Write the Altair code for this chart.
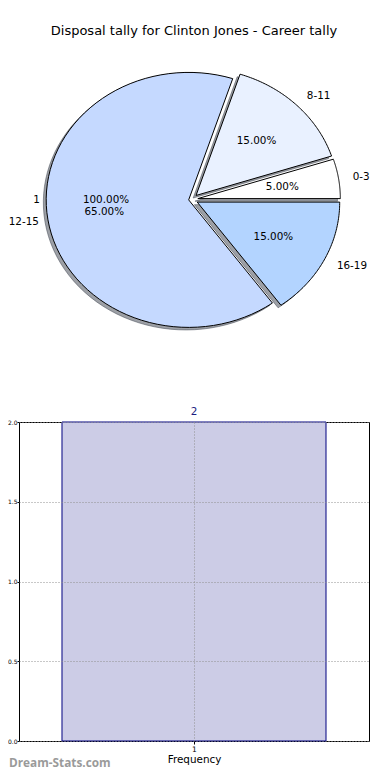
import altair as alt
import pandas as pd

# ---------------- data ----------------
title_text = "Disposal tally for Clinton Jones - Career tally"
pie_labels = ["0-3", "8-11", "12-15", "16-19"]
pie_counts = [1, 3, 13, 3]
pie_colors = ["#ffffff", "#e9f1ff", "#c5d9ff", "#b3d4ff"]
pie_explode = [0.045, 0.045, 0.02, 0.045]

extra_labels = ["1"]
extra_counts = [1]

bar_cats = [1]
bar_values = [2]
y_ticks = [0.0, 0.5, 1.0, 1.5, 2.0]
x_title = "Frequency"
watermark = "Dream-Stats.com"

# ---------------- layout constants ----------------
PW, PH = 350, 380          # pie panel plot size
BW, BH = 350, 319          # bar panel plot size
CX, CY = 172.5, 190.5      # pie centre inside pie panel (px)
RX, RY = 142.5, 127.5      # pie radii (px), matplotlib ellipse
N = 72
FONT = "DejaVu Sans"

x_dom = [-CX / RX, (PW - CX) / RX]
y_dom = [-(PH - CY) / RY, CY / RY]
xs = alt.Scale(domain=x_dom, nice=False, zero=False)
ys = alt.Scale(domain=y_dom, nice=False, zero=False)

main_df = pd.DataFrame({
    "order": list(range(len(pie_labels))),
    "label": pie_labels,
    "value": pie_counts,
    "color": pie_colors,
    "explode": pie_explode,
    "grp": "main",
})
extra_df = pd.DataFrame({
    "order": list(range(len(extra_labels))),
    "label": extra_labels,
    "value": extra_counts,
    "color": "#ffffff",
    "explode": 0.0,
    "grp": "extra",
})
all_df = pd.concat([main_df, extra_df], ignore_index=True)


def with_angles(ch):
    return (
        ch.transform_window(cum="sum(value)", frame=[None, 0],
                            sort=[alt.SortField("order")], groupby=["grp"])
        .transform_joinaggregate(total="sum(value)", groupby=["grp"])
        .transform_calculate(a0="2*PI*(datum.cum-datum.value)/datum.total")
        .transform_calculate(a1="2*PI*datum.cum/datum.total")
        .transform_calculate(am="(datum.a0+datum.a1)/2")
        .transform_calculate(ex="datum.explode*cos(datum.am)")
        .transform_calculate(ey="datum.explode*sin(datum.am)")
    )


def wedge_points(ch, dx, dy):
    return (
        with_angles(ch)
        .transform_calculate(k=f"sequence(0, {N + 3})")
        .transform_flatten(["k"])
        .transform_calculate(t=f"datum.a0 + (datum.a1-datum.a0)*(datum.k-1)/{N}")
        .transform_calculate(edge=f"(datum.k == 0 || datum.k == {N + 2}) ? 0 : 1")
        .transform_calculate(px=f"datum.ex + datum.edge*cos(datum.t) + ({dx})")
        .transform_calculate(py=f"datum.ey + datum.edge*sin(datum.t) + ({dy})")
    )


shadow = wedge_points(alt.Chart(main_df), -0.02, -0.02).mark_line(
    stroke="#3b414d", strokeOpacity=0.5, fill="#3b414d", fillOpacity=0.5,
    strokeWidth=1, interpolate="linear"
).encode(
    x=alt.X("px:Q", scale=xs, axis=None),
    y=alt.Y("py:Q", scale=ys, axis=None),
    detail="label:N",
    order="k:Q",
)

wedges = wedge_points(alt.Chart(main_df), 0, 0).mark_line(
    stroke="black", strokeWidth=1, strokeJoin="miter", interpolate="linear"
).encode(
    x=alt.X("px:Q", scale=xs, axis=None),
    y=alt.Y("py:Q", scale=ys, axis=None),
    fill=alt.Fill("color:N", scale=None, legend=None),
    detail="label:N",
    order="k:Q",
)

lab_base = with_angles(alt.Chart(all_df)).transform_calculate(
    lx="datum.ex + 1.1*cos(datum.am)",
    ly="datum.ey + 1.1*sin(datum.am)",
    qx="datum.ex + 0.6*cos(datum.am)",
    qy="datum.ey + 0.6*sin(datum.am)",
    pct="format(100*datum.value/datum.total, '.2f') + '%'",
)

lab_left = lab_base.transform_filter("cos(datum.am) > 0").mark_text(
    align="left", baseline="middle", font=FONT, fontSize=10.4, color="black"
).encode(x=alt.X("lx:Q", scale=xs, axis=None), y=alt.Y("ly:Q", scale=ys, axis=None), text="label:N")

lab_right = lab_base.transform_filter("cos(datum.am) <= 0").mark_text(
    align="right", baseline="middle", font=FONT, fontSize=10.4, color="black", dx=5
).encode(x=alt.X("lx:Q", scale=xs, axis=None), y=alt.Y("ly:Q", scale=ys, axis=None), text="label:N")

pct = lab_base.mark_text(
    align="center", baseline="middle", font=FONT, fontSize=10.4, color="black"
).encode(x=alt.X("qx:Q", scale=xs, axis=None), y=alt.Y("qy:Q", scale=ys, axis=None), text="pct:N")

title = alt.Chart(pd.DataFrame({"t": [title_text]})).mark_text(
    align="center", baseline="middle", font=FONT, fontSize=13, color="black"
).encode(x=alt.value(PW / 2), y=alt.value(22), text="t:N")

pie = alt.layer(shadow, wedges, pct, lab_left, lab_right, title).properties(
    width=PW, height=PH, view=alt.ViewBackground(stroke="transparent")
)

# ---------------- bar panel ----------------
bar_df = pd.DataFrame({"cat": bar_cats, "freq": bar_values})
xb = alt.Scale(domain=[0.4697, 1.5303], nice=False, zero=False)
yb = alt.Scale(domain=[0, 2], nice=False)

bars = alt.Chart(bar_df).transform_calculate(
    x0="datum.cat - 0.4", x1="datum.cat + 0.4"
).mark_bar(fill="#ccccE6", stroke="#000080", strokeWidth=1).encode(
    x=alt.X("x0:Q", scale=xb, axis=alt.Axis(
        values=bar_cats, format="d", title=x_title, grid=True,
        gridColor="#909090", gridDash=[1, 2], gridWidth=1,
        domain=False, tickColor="black", tickSize=3, labelFont=FONT,
        labelFontSize=7.5, labelColor="black", labelPadding=1,
        titleFont=FONT, titleFontSize=10.4, titleFontWeight="normal",
        titleColor="black", titlePadding=2, zindex=1)),
    x2="x1:Q",
    y=alt.Y("freq:Q", scale=yb, axis=alt.Axis(
        values=y_ticks, format=".1f", title=None, grid=True,
        gridColor="#909090", gridDash=[1, 2], gridWidth=1,
        domain=False, tickColor="black", tickSize=2, labelFont=FONT,
        labelFontSize=6, labelColor="black", labelPadding=0, zindex=1)),
    y2=alt.datum(0),
)

bar_text = alt.Chart(bar_df).mark_text(
    baseline="middle", align="center", dy=-10, font=FONT, fontSize=10.4, color="#1c1c80"
).encode(x=alt.X("cat:Q", scale=xb), y=alt.Y("freq:Q", scale=yb), text="freq:Q")

wm = alt.Chart(pd.DataFrame({"w": [watermark]})).mark_text(
    align="left", baseline="middle", font="Open Sans", fontSize=11.8,
    fontWeight="bold", color="#9a9a9a"
).encode(x=alt.value(-10), y=alt.value(341), text="w:N")

bar = alt.layer(bars, bar_text, wm).properties(
    width=BW, height=BH, view=alt.ViewBackground(stroke="black", strokeWidth=1)
)

chart = alt.vconcat(pie, bar, spacing=33, bounds="flush").properties(
    padding={"left": -2, "top": 0, "right": 0, "bottom": 0}
).configure_view(stroke=None)

chart.save("out.html", embed_options={"renderer": "svg", "actions": False})
